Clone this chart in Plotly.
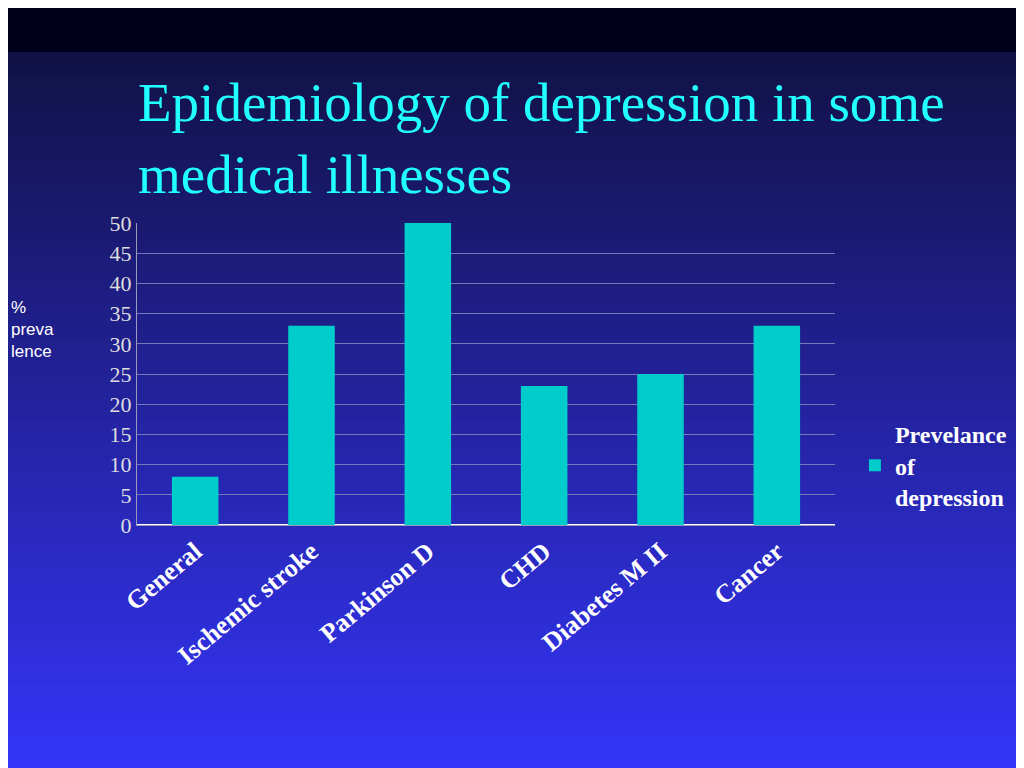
import plotly.graph_objects as go

categories = ["General", "Ischemic stroke", "Parkinson D", "CHD", "Diabetes M II", "Cancer"]
values = [8, 33, 50, 23, 25, 33]
series_name = "<b>Prevelance<br>of<br>depression</b>"

# page body adds an 8px margin, so draw in a slightly smaller canvas
OFF = 8
W, H = 1024 - OFF, 768 - OFF
L, R, T, B = 137 - OFF, 838 - OFF, 223 - OFF, 525 - OFF


def py(y):
    return (B - (y - OFF)) / (B - T)


def px(x):
    return ((x - OFF) - L) / (R - L)


# background gradient as stacked bands
shapes = [dict(type="rect", xref="paper", yref="paper", x0=px(0), x1=px(1030),
               y0=py(52), y1=py(0), fillcolor="#00001a", line_width=0, layer="below")]
n = 60
for i in range(n):
    y0 = 52 + (768 - 52) * i / n
    y1 = 52 + (768 - 52) * (i + 1) / n + 1
    t = i / (n - 1)
    r = int(0x12 + (0x35 - 0x12) * t)
    g = int(0x12 + (0x35 - 0x12) * t)
    b = int(0x48 + (0xf8 - 0x48) * t)
    shapes.append(dict(type="rect", xref="paper", yref="paper", x0=px(0), x1=px(1030),
                       y0=py(y1), y1=py(y0), fillcolor=f"rgb({r},{g},{b})",
                       line_width=0, layer="below"))

fig = go.Figure(go.Bar(x=categories, y=values, name=series_name,
                       marker_color="#00cccc", marker_line_width=0, showlegend=True))

fig.update_layout(
    width=W, height=H,
    margin=dict(l=L, r=W - R, t=T, b=H - B),
    paper_bgcolor="#1a1a6a", plot_bgcolor="rgba(0,0,0,0)",
    shapes=shapes,
    bargap=0.6,
    font=dict(family="Liberation Serif", color="white"),
    xaxis=dict(tickangle=-40, tickfont=dict(size=26, family="Liberation Serif", color="white"),
               tickprefix="<b>", ticksuffix="</b>", showgrid=False,
               showline=True, linecolor="#9999bb"),
    yaxis=dict(range=[0, 50], dtick=5, tickfont=dict(size=22, color="#dddddd"),
               gridcolor="#7777bb", showline=True, linecolor="#9999bb", ticks=""),
    legend=dict(x=px(858), y=py(412), xanchor="left", yanchor="top",
                font=dict(size=24, family="Liberation Serif", color="white"),
                bgcolor="rgba(0,0,0,0)"),
    annotations=[
        dict(text="Epidemiology of depression in some<br>medical illnesses",
             xref="paper", yref="paper", x=px(136), y=py(70), xanchor="left", yanchor="top",
             align="left", showarrow=False,
             font=dict(size=55, family="Liberation Serif", color="#22ffff")),
        dict(text="%<br>preva<br>lence", xref="paper", yref="paper", x=px(8), y=py(296),
             xanchor="left", yanchor="top", align="left", showarrow=False,
             font=dict(size=17, family="Liberation Sans", color="white")),
    ],
)
fig.update_layout(legend_itemsizing="constant")

fig.write_html("out.html")
